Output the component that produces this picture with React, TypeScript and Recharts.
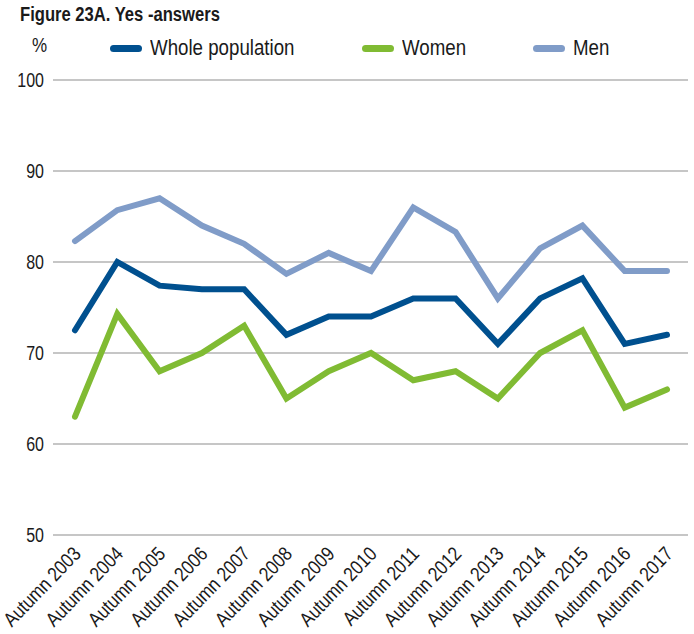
import React from 'react';
import { LineChart, Line, XAxis, YAxis, CartesianGrid } from 'recharts';

const FONT = '"Liberation Sans", Arial, sans-serif';
const SQUEEZE = 0.85; // the reference uses a condensed face

// Survey rounds on the x axis
const years = [
  'Autumn 2003', 'Autumn 2004', 'Autumn 2005', 'Autumn 2006', 'Autumn 2007',
  'Autumn 2008', 'Autumn 2009', 'Autumn 2010', 'Autumn 2011', 'Autumn 2012',
  'Autumn 2013', 'Autumn 2014', 'Autumn 2015', 'Autumn 2016', 'Autumn 2017',
];

// Share of yes-answers, %
const wholePopulation = [72.5, 80, 77.4, 77, 77, 72, 74, 74, 76, 76, 71, 76, 78.2, 71, 72];
const women = [63, 74.3, 68, 70, 73, 65, 68, 70, 67, 68, 65, 70, 72.5, 64, 66];
const men = [82.3, 85.7, 87, 84, 82, 78.7, 81, 79, 86, 83.3, 76, 81.5, 84, 79, 79];

const yTicks = [50, 60, 70, 80, 90, 100];

const series = [
  { key: 'whole', name: 'Whole population', color: '#00508f', legendX: 110 },
  { key: 'women', name: 'Women', color: '#80bb33', legendX: 362 },
  { key: 'men', name: 'Men', color: '#809cc8', legendX: 533 },
];

const data = years.map((year, i) => ({
  year,
  whole: wholePopulation[i],
  women: women[i],
  men: men[i],
}));

const XTick = (props: any) => {
  const { x, y, payload } = props;
  return (
    <text
      transform={`translate(${x + 7},${y + 12}) rotate(-46) scale(${SQUEEZE},1)`}
      textAnchor="end"
      fill="#1a1a1a"
      fontSize={20}
      fontFamily={FONT}
    >
      {payload.value}
    </text>
  );
};

const YTick = (props: any) => {
  const { x, y, payload } = props;
  return (
    <text
      transform={`translate(${x},${y}) scale(0.8,1)`}
      textAnchor="end"
      dy="0.36em"
      fill="#1a1a1a"
      fontSize={20}
      fontFamily={FONT}
    >
      {payload.value}
    </text>
  );
};

const squeezed: React.CSSProperties = {
  transform: `scaleX(${SQUEEZE})`,
  transformOrigin: 'left center',
  whiteSpace: 'nowrap',
};

export default function App() {
  return (
    <div style={{ position: 'absolute', left: 0, top: 0, width: 694, height: 634, background: '#fff', fontFamily: FONT, color: '#1a1a1a' }}>
      <div style={{ ...squeezed, position: 'absolute', left: 20, top: 3, fontSize: 20, fontWeight: 'bold', transform: 'scaleX(0.83)' }}>
        Figure 23A. Yes -answers
      </div>
      <div style={{ position: 'absolute', left: 32, top: 34, fontSize: 20, ...squeezed }}>%</div>
      {series.map((s) => (
        <div key={s.key} style={{ position: 'absolute', left: s.legendX, top: 34, height: 28, display: 'flex', alignItems: 'center' }}>
          <div style={{ width: 32, height: 7, borderRadius: 4, background: s.color, marginRight: 8 }} />
          <span style={{ fontSize: 22, ...squeezed, display: 'inline-block' }}>{s.name}</span>
        </div>
      ))}
      <LineChart width={694} height={634} data={data} margin={{ top: 80, right: 6, bottom: 0, left: 0 }}>
        <CartesianGrid vertical={false} stroke="#b3b3b3" strokeWidth={1.5} />
        <XAxis
          dataKey="year"
          interval={0}
          padding={{ left: 22, right: 21 }}
          axisLine={false}
          tickLine={false}
          tick={<XTick />}
          height={99}
        />
        <YAxis
          domain={[50, 100]}
          ticks={yTicks}
          width={53}
          axisLine={false}
          tickLine={false}
          tickMargin={3}
          tick={<YTick />}
        />
        {series.map((s) => (
          <Line
            key={s.key}
            dataKey={s.key}
            name={s.name}
            stroke={s.color}
            strokeWidth={6}
            strokeLinecap="round"
            type="linear"
            dot={false}
            isAnimationActive={false}
          />
        ))}
      </LineChart>
    </div>
  );
}
